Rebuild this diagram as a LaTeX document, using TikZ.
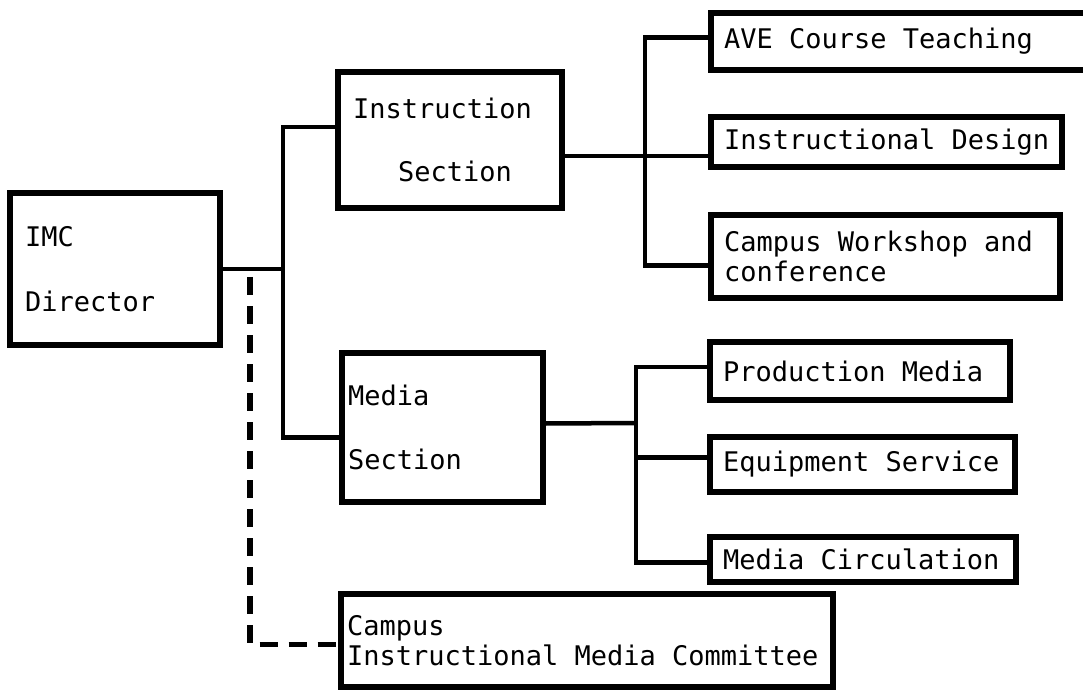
\documentclass[tikz,border=0pt]{standalone}
\usepackage{fontspec}
\setmonofont{DejaVu Sans Mono}

\begin{document}
\begin{tikzpicture}[x=1pt,y=-1pt,
                    unit/.style={draw,line width=5.5pt,align=flush left,inner xsep=#1,
                                 inner ysep=0pt,font=\ttfamily\fontsize{27}{30}\selectfont},
                    unit/.default=13pt]
  \tikzstyle{link}=[line width=4.5pt]
  \tikzstyle{liaison}=[line width=5.5pt,dash pattern=on 18pt off 11pt]

  \useasboundingbox (0,0) rectangle (1083,692);

  \node[unit=15pt,minimum height=152pt,text width=180pt] (dir)    at (115,269)     {IMC\\[35pt]Director};
  \node[unit=15pt,minimum height=136pt,text width=194pt] (instr)  at (450,140)     {Instruction\\[33pt]\hspace*{45pt}Section};
  \node[unit=6pt, minimum height=149pt,text width=189pt] (media)  at (442.5,427.5) {Media\\[34pt]Section};
  \node[unit=6pt, minimum height=93pt, text width=480pt] (cmte)   at (587,640.5)   {Campus\\Instructional Media Committee};

  \node[unit,minimum height=57pt,text width=363pt] (ave)    at (905.5,41.5)  {AVE Course Teaching};
  \node[unit,minimum height=50pt,text width=325pt] (design) at (886.5,142)   {\mbox{Instructional Design}};
  \node[unit,minimum height=83pt,text width=323pt] (shop)   at (885.5,256.5) {Campus Workshop and\\conference};
  \node[unit,minimum height=58pt,text width=274pt] (prod)   at (860,371)     {Production Media};
  \node[unit,minimum height=55pt,text width=279pt] (equip)  at (862.5,464.5) {Equipment Service};
  \node[unit,minimum height=45pt,text width=280pt] (circ)   at (863,559.5)   {Media Circulation};

  \coordinate (j1) at (283,269);
  \coordinate (j2) at (645,156);
  \coordinate (j3) at (636,423);
  \coordinate (d0) at (250,277);
  \coordinate (e3) at ([yshift=7pt]equip.west);

  % director to sections
  \draw[link] (dir.east) -- (j1);
  \draw[link] ([yshift=13pt]instr.west) -| (j1) |- ([yshift=-10pt]media.west);

  % instruction units
  \draw[link] ([yshift=-16pt]instr.east) -- ([yshift=-14pt]design.west);
  \draw[link] ([yshift=4pt]ave.west) -| (j2) |- ([yshift=-9pt]shop.west);

  % media units
  \draw[link] ([yshift=4pt]media.east) -- (j3);
  \draw[link] ([yshift=4pt]prod.west) -| (j3) |- ([yshift=-3pt]circ.west);
  \draw[link] (e3) -- (e3 -| j3);

  % committee
  \draw[liaison] (d0) |- ([yshift=-4pt]cmte.west);
\end{tikzpicture}
\end{document}
